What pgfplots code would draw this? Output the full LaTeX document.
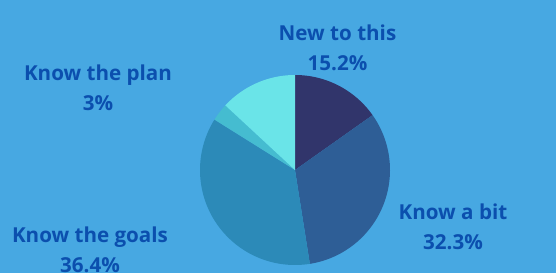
\documentclass[border=0pt]{standalone}
\usepackage{pgfplots}
\pgfplotsset{compat=1.18}
\usepackage{fontspec}
\setmainfont{Open Sans}[BoldFont={* Bold}]
\definecolor{bg}{HTML}{47A8E2}
\definecolor{lab}{HTML}{0B4FAE}
\definecolor{s1}{HTML}{31356B}
\definecolor{s2}{HTML}{2E5E96}
\definecolor{s3}{HTML}{2C8AB8}
\definecolor{s4}{HTML}{45BCD0}
\definecolor{s5}{HTML}{6AE4E8}
\tikzset{lbl/.style={font=\bfseries\fontsize{20.6}{30}\selectfont, text=lab, align=center}}
% slices: value (percent), clockwise from 12 o'clock
% New to this 15.2, Know a bit 32.3, Know the goals 36.4, Know the plan 3, (unlabelled) 13.1
\begin{document}
\begin{tikzpicture}
\begin{axis}[
  scale only axis, width=556pt, height=273pt,
  xmin={-295/95}, xmax={261/95}, ymin={-103/95}, ymax={170/95},
  axis lines=none, ticks=none, clip=false,
]
\fill[bg] (rel axis cs:0,0) rectangle (rel axis cs:1,1);
% angles: start 90, each slice spans value*3.6 degrees clockwise
\addplot[fill=s1, draw=none, domain=35.28:90, samples=40, variable=\t] ({cos(\t)},{sin(\t)}) -- (axis cs:0,0) -- cycle;
\addplot[fill=s2, draw=none, domain=-81.0:35.28, samples=60, variable=\t] ({cos(\t)},{sin(\t)}) -- (axis cs:0,0) -- cycle;
\addplot[fill=s3, draw=none, domain=-212.04:-81.0, samples=70, variable=\t] ({cos(\t)},{sin(\t)}) -- (axis cs:0,0) -- cycle;
\addplot[fill=s4, draw=none, domain=-222.84:-212.04, samples=10, variable=\t] ({cos(\t)},{sin(\t)}) -- (axis cs:0,0) -- cycle;
\addplot[fill=s5, draw=none, domain=-270:-222.84, samples=30, variable=\t] ({cos(\t)},{sin(\t)}) -- (axis cs:0,0) -- cycle;
\node[lbl] at (axis cs:{(337.5-295)/95},{(170-48)/95}) {New to this\\15.2\%};
\node[lbl] at (axis cs:{(98-295)/95},{(170-87.5)/95}) {Know the plan\\3\%};
\node[lbl] at (axis cs:{(453-295)/95},{(170-227)/95}) {Know a bit\\32.3\%};
\node[lbl] at (axis cs:{(90-295)/95},{(170-250)/95}) {Know the goals\\36.4\%};
\end{axis}
\end{tikzpicture}
\end{document}
